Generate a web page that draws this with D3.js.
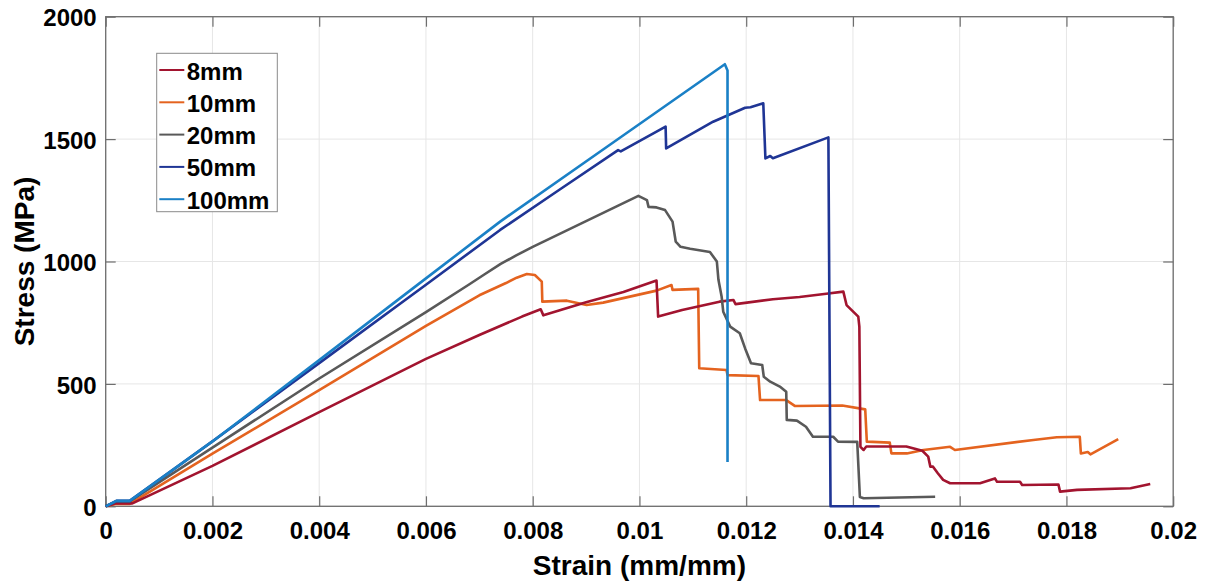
<!DOCTYPE html>
<html>
<head>
<meta charset="utf-8">
<script src="https://cdn.jsdelivr.net/npm/d3@7"></script>
<style>
  html, body { margin: 0; padding: 0; background: #fff; }
  svg { display: block; }
  text { font-family: "Liberation Sans", Arial, Helvetica, sans-serif; font-weight: bold; fill: #000; }
</style>
</head>
<body>
<svg id="chart" width="1208" height="586"></svg>
<script>
// ---------- data ----------
const seriesNames = ["8mm", "10mm", "20mm", "50mm", "100mm"];
const seriesColors = ["#A2142F", "#E4631F", "#595959", "#1F3595", "#1A80C6"];

const data8mm = [[0,0],[0.0002,12],[0.0005,12],[0.002,165],[0.004,385],[0.006,602],[0.007,700],[0.0078,775],[0.00815,805],[0.0082,780],[0.009,834],[0.0097,875],[0.01032,922],[0.01035,775],[0.0108,802],[0.0115,836],[0.01176,843],[0.0118,826],[0.0125,846],[0.013,855],[0.0135,868],[0.01382,877],[0.01388,822],[0.0141,775],[0.01412,734],[0.01414,243],[0.0142,230],[0.01425,244],[0.015,244],[0.0153,227],[0.01541,203],[0.01545,162],[0.0155,162],[0.01559,135],[0.01569,108],[0.01582,94],[0.01638,94],[0.01666,114],[0.0167,100],[0.01713,100],[0.01717,87],[0.01785,89],[0.01788,60],[0.0182,67],[0.0192,74],[0.01957,91]];

const data10mm = [[0,0],[0.0002,10],[0.00045,10],[0.002,215],[0.004,475],[0.006,737],[0.007,862],[0.0075,912],[0.0077,934],[0.00789,949],[0.00804,945],[0.00817,918],[0.00818,836],[0.00864,840],[0.00901,822],[0.00932,832],[0.01032,881],[0.0106,904],[0.01062,884],[0.0111,888],[0.01112,564],[0.01163,557],[0.01165,536],[0.01223,532],[0.01226,434],[0.01275,434],[0.01291,410],[0.0138,412],[0.01423,396],[0.01426,264],[0.01469,260],[0.01472,216],[0.01501,216],[0.01532,230],[0.01582,243],[0.01591,230],[0.01738,271],[0.01782,282],[0.01825,284],[0.01827,216],[0.0184,222],[0.01845,212],[0.01897,274]];

const data20mm = [[0,0],[0.0002,20],[0.00045,20],[0.002,240],[0.004,522],[0.006,793],[0.0068,905],[0.0071,948],[0.0074,990],[0.0077,1026],[0.008,1060],[0.009,1165],[0.00998,1268],[0.01014,1251],[0.01017,1223],[0.01032,1221],[0.01048,1210],[0.01062,1163],[0.01068,1081],[0.01077,1060],[0.01095,1052],[0.01132,1039],[0.01145,1000],[0.01148,925],[0.01154,856],[0.01157,795],[0.0117,734],[0.01188,707],[0.01198,645],[0.01209,584],[0.0123,577],[0.01233,529],[0.01245,509],[0.01263,489],[0.01275,468],[0.01276,353],[0.01295,350],[0.01312,325],[0.01325,284],[0.01363,284],[0.01372,264],[0.01408,263],[0.01413,38],[0.0142,33],[0.01554,39]];

const data50mm = [[0,0],[0.0002,22],[0.00045,22],[0.002,265],[0.004,585],[0.006,905],[0.00739,1129],[0.0085,1293],[0.0096,1455],[0.00965,1450],[0.01049,1551],[0.0105,1462],[0.01138,1571],[0.01198,1628],[0.01208,1630],[0.01232,1646],[0.01236,1421],[0.01245,1431],[0.0125,1422],[0.01354,1507],[0.01358,0],[0.0145,0]];

const data100mm = [[0,0],[0.0002,22],[0.00045,22],[0.002,265],[0.004,597],[0.006,931],[0.00739,1163],[0.0095,1485],[0.0116,1806],[0.01165,1780],[0.01165,181]];

const allSeries = [data8mm, data10mm, data20mm, data50mm, data100mm];
const drawOrder = [1, 0, 2, 3, 4];

const xTicks = [0,0.002,0.004,0.006,0.008,0.01,0.012,0.014,0.016,0.018,0.02];
const xTickLabels = ["0","0.002","0.004","0.006","0.008","0.01","0.012","0.014","0.016","0.018","0.02"];
const yTicks = [0,500,1000,1500,2000];
const yTickLabels = ["0","500","1000","1500","2000"];

const xTitle = "Strain (mm/mm)";
const yTitle = "Stress (MPa)";

// ---------- layout ----------
const svg = d3.select("#chart");
const L = 105.7, R = 1173.2, T = 16.7, B = 506.3;
const x = d3.scaleLinear().domain([0, 0.02]).range([L, R]);
const y = d3.scaleLinear().domain([0, 2000]).range([B, T]);

// grid
const grid = svg.append("g");
grid.selectAll("line.gx").data(xTicks).join("line")
  .attr("x1", d => x(d)).attr("x2", d => x(d)).attr("y1", T).attr("y2", B)
  .attr("stroke", "#e6e6e6").attr("stroke-width", 1);
grid.selectAll("line.gy").data(yTicks).join("line")
  .attr("x1", L).attr("x2", R).attr("y1", d => y(d)).attr("y2", d => y(d))
  .attr("stroke", "#e6e6e6").attr("stroke-width", 1);

// axes (ticks inward)
const xAxis = d3.axisBottom(x).tickValues(xTicks).tickSize(-10).tickSizeOuter(0)
  .tickFormat((d, i) => xTickLabels[i]);
const gx = svg.append("g").attr("transform", `translate(0,${B})`).call(xAxis);
gx.select(".domain").remove();
gx.selectAll(".tick line").attr("stroke", "#6e6e6e").attr("stroke-width", 1.2);
gx.selectAll(".tick text").attr("y", 33).attr("dy", null)
  .attr("font-size", 24).attr("font-family", null).attr("fill", "#000");

const xAxisTop = d3.axisTop(x).tickValues(xTicks).tickSize(-10).tickSizeOuter(0).tickFormat("");
const gxt = svg.append("g").attr("transform", `translate(0,${T})`).call(xAxisTop);
gxt.select(".domain").remove();
gxt.selectAll(".tick line").attr("stroke", "#6e6e6e").attr("stroke-width", 1.2);

const yAxis = d3.axisLeft(y).tickValues(yTicks).tickSize(-10).tickSizeOuter(0)
  .tickFormat((d, i) => yTickLabels[i]);
const gy = svg.append("g").attr("transform", `translate(${L},0)`).call(yAxis);
gy.select(".domain").remove();
gy.selectAll(".tick line").attr("stroke", "#6e6e6e").attr("stroke-width", 1.2);
gy.selectAll(".tick text").attr("x", -9).attr("dy", "0.38em")
  .attr("font-size", 24).attr("font-family", null).attr("fill", "#000");

const yAxisRight = d3.axisRight(y).tickValues(yTicks).tickSize(-10).tickSizeOuter(0).tickFormat("");
const gyr = svg.append("g").attr("transform", `translate(${R},0)`).call(yAxisRight);
gyr.select(".domain").remove();
gyr.selectAll(".tick line").attr("stroke", "#6e6e6e").attr("stroke-width", 1.2);

// box
svg.append("rect").attr("x", L).attr("y", T).attr("width", R - L).attr("height", B - T)
  .attr("fill", "none").attr("stroke", "#6e6e6e").attr("stroke-width", 1.3);

// lines
const line = d3.line().x(d => x(d[0])).y(d => y(d[1]));
const gl = svg.append("g");
drawOrder.forEach(i => {
  gl.append("path").datum(allSeries[i])
    .attr("d", line).attr("fill", "none")
    .attr("stroke", seriesColors[i]).attr("stroke-width", 2.6)
    .attr("stroke-linejoin", "round");
});

// axis titles
svg.append("text").attr("x", (L + R) / 2).attr("y", 575)
  .attr("text-anchor", "middle").attr("font-size", 28).text(xTitle);
svg.append("text").attr("transform", `translate(34,${(T + B) / 2}) rotate(-90)`)
  .attr("text-anchor", "middle").attr("font-size", 28).text(yTitle);

// legend
const lg = svg.append("g");
lg.append("rect").attr("x", 156.7).attr("y", 53.3).attr("width", 120.6).attr("height", 158.4)
  .attr("fill", "#fff").attr("stroke", "#8a8a8a").attr("stroke-width", 1);
seriesNames.forEach((name, i) => {
  const ly = 70 + i * 32.3;
  lg.append("line").attr("x1", 159.3).attr("x2", 184.3).attr("y1", ly).attr("y2", ly)
    .attr("stroke", seriesColors[i]).attr("stroke-width", 2);
  lg.append("text").attr("x", 186.7).attr("y", ly + 9.5).attr("font-size", 24).text(name);
});
</script>
</body>
</html>
